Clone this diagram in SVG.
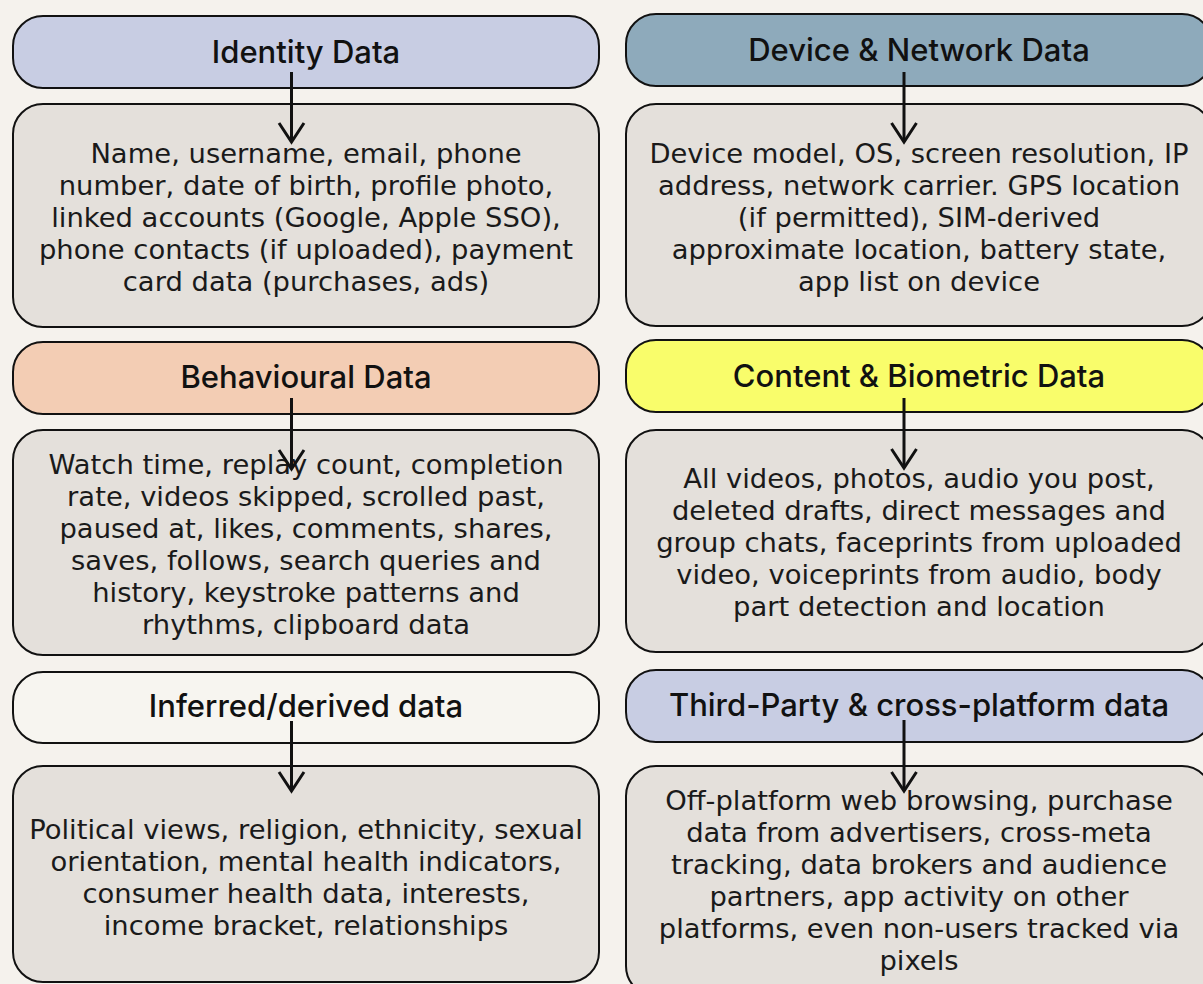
<svg xmlns="http://www.w3.org/2000/svg" width="1203" height="984" viewBox="0 0 1203 984">
<style>
.hd{stroke:#111;stroke-width:2}
.bx{fill:#e4e0db;stroke:#111;stroke-width:2}
.ht{font-family:Inter,"Liberation Sans",sans-serif;font-size:31px;font-weight:500;fill:#111;text-anchor:middle}
.bt{font-family:"DejaVu Sans","Liberation Sans",sans-serif;font-size:27.4px;font-weight:400;fill:#1a1a1a;text-anchor:middle}
.ar{stroke:#111;stroke-width:3;fill:none}
</style>
<defs>
<marker id="ah" viewBox="-3 -16 25 32" markerWidth="25" markerHeight="32" refX="19" refY="0" orient="auto" markerUnits="userSpaceOnUse">
<path d="M0,-12.5 L19,0 L0,12.5" fill="none" stroke="#111" stroke-width="3"/>
</marker>
</defs>
<rect width="1203" height="984" fill="#f5f2ed"/>

<g id="identity-header">
<rect class="hd" x="13" y="16" width="586" height="72" rx="30" fill="#c8cde3"/>
<text class="ht" x="306" y="63">Identity Data</text>
</g>
<g id="identity-body">
<rect class="bx" x="13" y="104" width="586" height="223" rx="30"/>
<text class="bt" x="306" y="163">Name, username, email, phone</text>
<text class="bt" x="306" y="195">number, date of birth, profile photo,</text>
<text class="bt" x="306" y="227">linked accounts (Google, Apple SSO),</text>
<text class="bt" x="306" y="259">phone contacts (if uploaded), payment</text>
<text class="bt" x="306" y="291">card data (purchases, ads)</text>
</g>

<g id="device-header">
<rect class="hd" x="626" y="14" width="586" height="72" rx="30" fill="#8eaabb"/>
<text class="ht" x="919" y="61">Device &amp; Network Data</text>
</g>
<g id="device-body">
<rect class="bx" x="626" y="104" width="586" height="222" rx="30"/>
<text class="bt" x="919" y="163">Device model, OS, screen resolution, IP</text>
<text class="bt" x="919" y="195">address, network carrier. GPS location</text>
<text class="bt" x="919" y="227">(if permitted), SIM-derived</text>
<text class="bt" x="919" y="259">approximate location, battery state,</text>
<text class="bt" x="919" y="291">app list on device</text>
</g>

<g id="behavioural-header">
<rect class="hd" x="13" y="342" width="586" height="72" rx="30" fill="#f3cdb4"/>
<text class="ht" x="306" y="388">Behavioural Data</text>
</g>
<g id="behavioural-body">
<rect class="bx" x="13" y="430" width="586" height="225" rx="30"/>
<text class="bt" x="306" y="474">Watch time, replay count, completion</text>
<text class="bt" x="306" y="506">rate, videos skipped, scrolled past,</text>
<text class="bt" x="306" y="538">paused at, likes, comments, shares,</text>
<text class="bt" x="306" y="570">saves, follows, search queries and</text>
<text class="bt" x="306" y="602">history, keystroke patterns and</text>
<text class="bt" x="306" y="634">rhythms, clipboard data</text>
</g>

<g id="content-header">
<rect class="hd" x="626" y="340" width="586" height="72" rx="30" fill="#f9fd6b"/>
<text class="ht" x="919" y="387">Content &amp; Biometric Data</text>
</g>
<g id="content-body">
<rect class="bx" x="626" y="430" width="586" height="222" rx="30"/>
<text class="bt" x="919" y="488">All videos, photos, audio you post,</text>
<text class="bt" x="919" y="520">deleted drafts, direct messages and</text>
<text class="bt" x="919" y="552">group chats, faceprints from uploaded</text>
<text class="bt" x="919" y="584">video, voiceprints from audio, body</text>
<text class="bt" x="919" y="616">part detection and location</text>
</g>

<g id="inferred-header">
<rect class="hd" x="13" y="672" width="586" height="71" rx="30" fill="#f7f5f0"/>
<text class="ht" x="306" y="717">Inferred/derived data</text>
</g>
<g id="inferred-body">
<rect class="bx" x="13" y="766" width="586" height="216" rx="30"/>
<text class="bt" x="306" y="839">Political views, religion, ethnicity, sexual</text>
<text class="bt" x="306" y="871">orientation, mental health indicators,</text>
<text class="bt" x="306" y="903">consumer health data, interests,</text>
<text class="bt" x="306" y="935">income bracket, relationships</text>
</g>

<g id="thirdparty-header">
<rect class="hd" x="626" y="670" width="586" height="72" rx="30" fill="#c8cde3"/>
<text class="ht" x="919" y="716">Third-Party &amp; cross-platform data</text>
</g>
<g id="thirdparty-body">
<rect class="bx" x="626" y="766" width="586" height="230" rx="30"/>
<text class="bt" x="919" y="810">Off-platform web browsing, purchase</text>
<text class="bt" x="919" y="842">data from advertisers, cross-meta</text>
<text class="bt" x="919" y="874">tracking, data brokers and audience</text>
<text class="bt" x="919" y="906">partners, app activity on other</text>
<text class="bt" x="919" y="938">platforms, even non-users tracked via</text>
<text class="bt" x="919" y="970">pixels</text>
</g>

<g id="connectors">
<line class="ar" x1="291.5" y1="72" x2="291.5" y2="142" marker-end="url(#ah)"/>
<line class="ar" x1="904" y1="72" x2="904" y2="142" marker-end="url(#ah)"/>
<line class="ar" x1="291.5" y1="398" x2="291.5" y2="469" marker-end="url(#ah)"/>
<line class="ar" x1="904" y1="398" x2="904" y2="468" marker-end="url(#ah)"/>
<line class="ar" x1="291.5" y1="721" x2="291.5" y2="791" marker-end="url(#ah)"/>
<line class="ar" x1="904" y1="720" x2="904" y2="791" marker-end="url(#ah)"/>
</g>
</svg>
